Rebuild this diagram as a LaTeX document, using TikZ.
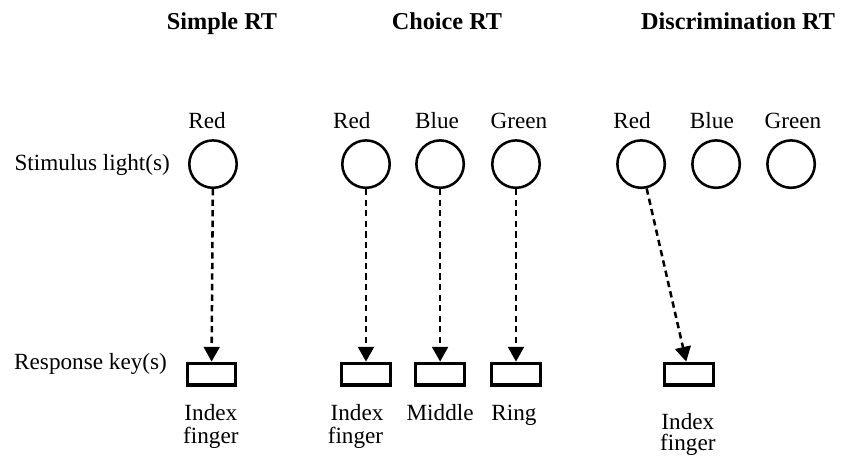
\documentclass[tikz,border=0pt]{standalone}
\usepackage{fontspec}
\setmainfont{Liberation Serif}
\usetikzlibrary{arrows.meta}
\tikzset{
  lamp/.style={circle,draw,line width=2.4pt,minimum size=1.58cm,inner sep=0pt},
  keybox/.style={draw,line width=3.2pt,minimum width=1.62cm,minimum height=0.72cm,inner sep=0pt},
  cue/.style={-{Triangle[width=15pt,length=14pt]},line width=2.4pt,dash pattern=on 6pt off 4pt},
  txt/.style={font=\fontsize{22}{26}\selectfont,inner sep=0pt,anchor=base},
  head/.style={font=\fontsize{23}{27}\selectfont\bfseries,inner sep=0pt,anchor=base}
}

\begin{document}
\begin{tikzpicture}
      \useasboundingbox (0,0) rectangle (28.1,-15.233);

      % titles
      \node[head] (simple) at (7.4,-1.0) {Simple RT};
      \node[head] (choice) at (14.9,-1.0) {Choice RT};
      \node[head] (discr) at (24.6,-1.0) {Discrimination RT};

      % row labels
      \node[txt,anchor=base east] (stim) at (5.67,-5.67) {Stimulus light(s)};
      \node[txt,anchor=base east] (resp) at (5.57,-12.3) {Response key(s)};

      % simple RT
      \node[txt] (sRtxt) at (6.9,-4.27) {Red};
      \node[lamp] (sR) at (7.1,-5.47) {};
      \node[keybox] (sK) at (7.05,-12.47) {};
      \node[txt] (sI) at (7.03,-14.0) {Index};
      \node[txt] (sF) at (7.03,-14.77) {finger};
      \draw[cue] (sR) -- (sK);

      % choice RT
      \node[txt] (cRtxt) at (11.73,-4.27) {Red};
      \node[txt] (cBtxt) at (14.57,-4.27) {Blue};
      \node[txt] (cGtxt) at (17.3,-4.27) {Green};
      \node[lamp] (cR) at (12.2,-5.47) {};
      \node[lamp] (cB) at (14.67,-5.47) {};
      \node[lamp] (cG) at (17.2,-5.47) {};
      \node[keybox] (cRK) at (12.2,-12.47) {};
      \node[keybox] (cBK) at (14.67,-12.47) {};
      \node[keybox] (cGK) at (17.2,-12.47) {};
      \node[txt] (cI) at (11.9,-14.0) {Index};
      \node[txt] (cF) at (11.85,-14.77) {finger};
      \node[txt] (cM) at (14.67,-14.0) {Middle};
      \node[txt] (cN) at (17.13,-14.0) {Ring};
      \draw[cue] (cR) -- (cRK);
      \draw[cue] (cB) -- (cBK);
      \draw[cue] (cG) -- (cGK);

      % discrimination RT
      \node[txt] (dRtxt) at (21.07,-4.27) {Red};
      \node[txt] (dBtxt) at (23.73,-4.27) {Blue};
      \node[txt] (dGtxt) at (26.43,-4.27) {Green};
      \node[lamp] (dR) at (21.37,-5.47) {};
      \node[lamp] (dB) at (23.87,-5.47) {};
      \node[lamp] (dG) at (26.37,-5.47) {};
      \node[keybox] (dK) at (22.97,-12.47) {};
      \node[txt] (dI) at (22.93,-14.3) {Index};
      \node[txt] (dF) at (22.93,-15.03) {finger};
      \draw[cue] (dR) -- (dK);
\end{tikzpicture}
\end{document}
